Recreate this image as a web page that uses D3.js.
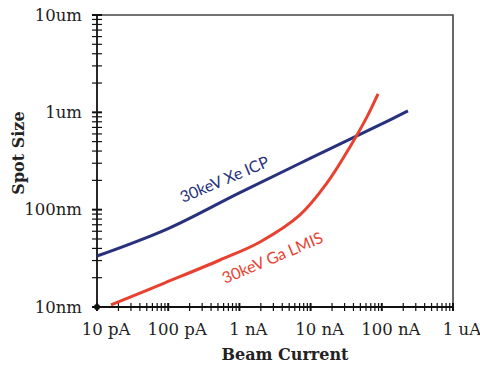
<!DOCTYPE html>
<html>
<head>
<meta charset="utf-8">
<title>Spot Size vs Beam Current</title>
<script src="https://d3js.org/d3.v7.min.js"></script>
<style>
  body { margin: 0; background: #fff; }
  .tick-label { font-family: "DejaVu Serif", serif; font-size: 16.5px; fill: #222; }
  .axis-title { font-family: "DejaVu Serif", serif; font-size: 16px; font-weight: bold; fill: #222; }
  .series-label { font-family: Lato, "Open Sans", sans-serif; font-size: 16px; }
</style>
</head>
<body>
<div id="chart"></div>
<script>
//------------------------ DATA ------------------------//
// beam current in nA, spot size in nm
const xeCurrent = [0.01, 0.1, 1, 10, 100, 233];
const xeSpot    = [33.4, 64, 149, 338, 760, 1033];

const gaCurrent = [0.0157, 0.09, 0.534, 1.95, 7.1, 17, 35.7, 61.9, 88.5];
const gaSpot    = [10.5, 17.7, 30.4, 46.6, 88.3, 188, 441, 897, 1545];

const xTickValues = [0.01, 0.1, 1, 10, 100, 1000];
const xTickLabels = ["10 pA", "100 pA", "1 nA", "10 nA", "100 nA", "1 uA"];
const yTickValues = [10, 100, 1000, 10000];
const yTickLabels = ["10nm", "100nm", "1um", "10um"];

const seriesNames = ["30keV Xe ICP", "30keV Ga LMIS"];

//------------------------ SVG ------------------------//
const width = 480, height = 369;
const plotL = 97, plotR = 453, plotT = 15, plotB = 307;

const svg = d3.select("#chart").append("svg")
    .attr("width", width)
    .attr("height", height);

const x = d3.scaleLog().domain([0.01, 1000]).range([plotL, plotR]);
const y = d3.scaleLog().domain([10, 10000]).range([plotB, plotT]);

// frame (top + right)
svg.append("path")
    .attr("d", `M${plotL},${plotT}H${plotR}V${plotB}`)
    .attr("fill", "none")
    .attr("stroke", "#444")
    .attr("stroke-width", 1.6);

// minor/major ticks crossing the axes
svg.append("g").selectAll("line")
    .data(x.ticks())
    .join("line")
    .attr("x1", d => x(d)).attr("x2", d => x(d))
    .attr("y1", plotB - 4).attr("y2", plotB + 4)
    .attr("stroke", "#111")
    .attr("stroke-width", d => xTickValues.includes(d) ? 2 : 1.2);

svg.append("g").selectAll("line")
    .data(y.ticks())
    .join("line")
    .attr("y1", d => y(d)).attr("y2", d => y(d))
    .attr("x1", plotL - 5).attr("x2", plotL + 5)
    .attr("stroke", "#111")
    .attr("stroke-width", d => yTickValues.includes(d) ? 2 : 1.2);

// axis lines
svg.append("path")
    .attr("d", `M${plotL},${plotT}V${plotB}H${plotR}`)
    .attr("fill", "none")
    .attr("stroke", "#111")
    .attr("stroke-width", 1.8);

svg.append("circle")
    .attr("cx", plotL).attr("cy", plotB).attr("r", 3)
    .attr("fill", "#111");

// tick labels
svg.append("g").selectAll("text")
    .data(xTickValues)
    .join("text")
    .attr("class", "tick-label")
    .attr("x", d => x(d) + 9)
    .attr("y", 335)
    .attr("text-anchor", "middle")
    .text((d, i) => xTickLabels[i]);

svg.append("g").selectAll("text")
    .data(yTickValues)
    .join("text")
    .attr("class", "tick-label")
    .attr("x", 82)
    .attr("y", d => y(d))
    .attr("dy", "0.35em")
    .attr("text-anchor", "end")
    .text((d, i) => yTickLabels[i]);

// axis titles
svg.append("text")
    .attr("class", "axis-title")
    .attr("x", 285).attr("y", 360)
    .attr("text-anchor", "middle")
    .text("Beam Current");

svg.append("text")
    .attr("class", "axis-title")
    .attr("transform", "translate(24,153) rotate(-90)")
    .attr("text-anchor", "middle")
    .text("Spot Size");

//------------------------ LINES ------------------------//
const line = d3.line()
    .x(d => x(d[0]))
    .y(d => y(d[1]))
    .curve(d3.curveCatmullRom.alpha(0.5));

const series = [
  { name: seriesNames[0], color: "#27317c", pts: d3.zip(xeCurrent, xeSpot) },
  { name: seriesNames[1], color: "#e8412f", pts: d3.zip(gaCurrent, gaSpot) }
];

svg.append("g").selectAll("path")
    .data(series)
    .join("path")
    .attr("d", d => line(d.pts))
    .attr("fill", "none")
    .attr("stroke", d => d.color)
    .attr("stroke-width", 3);

// series labels
const labelPos = [[0.161, 117], [0.63, 17.2]];
svg.append("g").selectAll("text")
    .data(series)
    .join("text")
    .attr("class", "series-label")
    .attr("fill", d => d.color)
    .attr("transform", (d, i) =>
        "translate(" + x(labelPos[i][0]) + "," + y(labelPos[i][1]) + ") rotate(-23)")
    .text(d => d.name);
</script>
</body>
</html>
